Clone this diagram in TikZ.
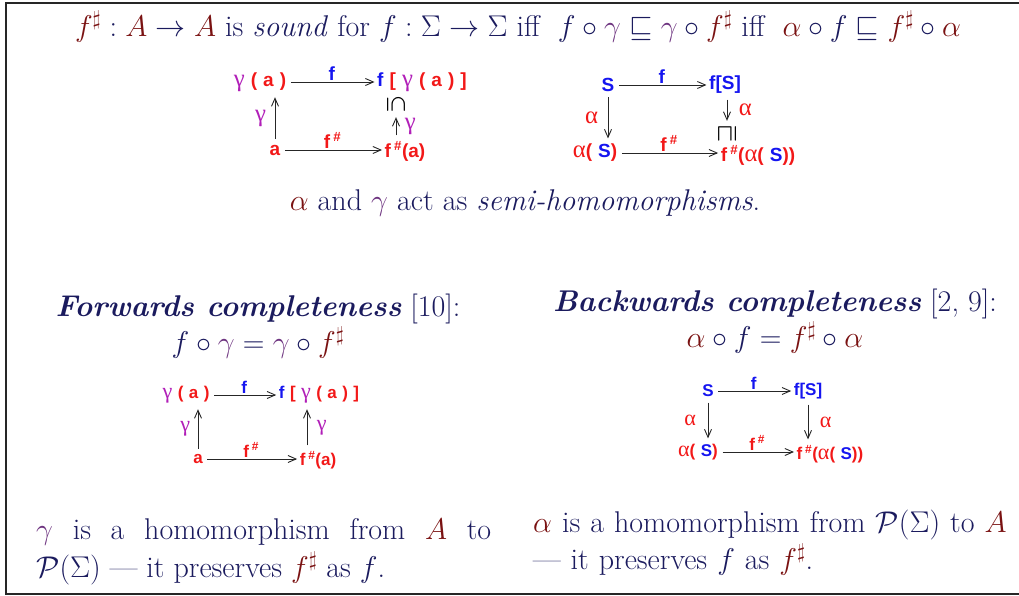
\documentclass[tikz,border=0pt]{standalone}
\usepackage{fix-cm}
\usepackage{xcolor}
\usepackage{graphicx}
\usepackage{fontspec}
\setsansfont{Liberation Sans}
\newfontfamily\grkfont{Liberation Serif}
\usetikzlibrary{arrows.meta}
\definecolor{navy}{HTML}{1B1B5E}
\definecolor{maroon}{HTML}{7A1212}
\definecolor{plum}{HTML}{6E3480}
\definecolor{dred}{HTML}{F21818}
\definecolor{dblue}{HTML}{1515F0}
\definecolor{dmag}{HTML}{B11FB8}
% math pieces
\newcommand{\fsh}{{\color{maroon}f^{\sharp}}}
\newcommand{\gam}{{\color{plum}\gamma}}
\newcommand{\alp}{{\color{maroon}\alpha}}
\newcommand{\absA}{{\color{maroon}A}}
% diagram pieces
\newcommand{\dsp}{\hspace{0.32em}}
\newcommand{\dgam}{{\color{dmag}\grkfont\mdseries\scalebox{1.3}{γ}}}
\newcommand{\dalp}{{\color{dred}\grkfont\mdseries\scalebox{1.3}{α}}}
\newcommand{\dsS}{{\color{dblue}S}}
\newcommand{\dff}{{\color{dblue}f}}
\newcommand{\dfsh}{{\color{dred}f\,\textsuperscript{\#}}}
\newcommand{\bigtext}{\fontsize{30}{36}\selectfont}
\tikzset{
  frame/.style={line width=2.5pt,draw=black!85},
  txt/.style={text=navy,font=\bigtext,inner sep=1pt},
  lab/.style={text=dred,font=\sffamily\bfseries\fontsize{19}{22}\selectfont,inner sep=1.5pt},
  smalllab/.style={text=dred,font=\sffamily\bfseries\fontsize{17}{20}\selectfont,inner sep=1.5pt},
  rel/.style={text=black,font=\fontsize{20}{22}\selectfont\boldmath,inner sep=0pt},
  arr/.style={-{Straight Barb[length=8pt,width=7pt]},line width=0.9pt,draw=black!85,shorten <=3pt,shorten >=1pt},
  varr/.style={arr,shorten <=4pt,shorten >=4pt}
}
\begin{document}
\begin{tikzpicture}[x=1pt,y=-1pt]
  \useasboundingbox (0,0) rectangle (1019,596);
  \draw[frame] (1030,3) -- (6,3) -- (6,594) -- (1030,594);

  % soundness
  \node[txt] (sound) at (518,27) {$\fsh:\absA\to\absA$ is \textit{sound} for $f:\Sigma\to\Sigma$ iff\ \ $f\circ\gam\sqsubseteq\gam\circ\fsh$ iff\ \ $\alp\circ f\sqsubseteq\fsh\circ\alp$};

  % top left square
  \node[lab] (ga) at (260,82) {\dgam\dsp(\dsp a\dsp)};
  \node[lab] (fga) at (422,82) {\dff\dsp[\dsp\dgam\dsp(\dsp a\dsp)\dsp]};
  \node[rel] (sub) at (396,104) {\rotatebox{-90}{$\subseteq$}};
  \node[lab] (a) at (275,150) {a};
  \node[lab] (fsa) at (405,151) {f\,\textsuperscript{\#}(a)};
  \draw[arr] (ga) -- node[lab,above] {\dff} (fga);
  \draw[arr] (a) -- node[lab,above] {\dfsh} (a -| fsa.west);
  \draw[varr] (a) -- node[lab,left=7pt] {\dgam} (a |- ga.south);
  \draw[varr] (sub |- fsa.north) -- node[lab,right=7pt] {\dgam} (sub.south);

  % top right square
  \node[lab] (s) at (608,85) {\dsS};
  \node[lab,text=dblue] (fs) at (725,85) {f[S]};
  \node[rel] (sq) at (727,134) {\rotatebox{90}{$\sqsupseteq$}};
  \node[lab] (as) at (595,153) {\dalp(\dsp\dsS)};
  \node[lab] (fsas) at (758,155) {f\,\textsuperscript{\#}(\dalp(\dsp\dsS))};
  \draw[arr] (s) -- node[lab,above] {\dff} (fs);
  \draw[varr] (s) -- node[lab,left=8pt] {\dalp} (s |- as.north);
  \draw[varr] (sq |- fs.south) -- node[lab,right=10pt] {\dalp} (sq.north);
  \draw[arr] (as) -- node[lab,above] {\dfsh} (as -| fsas.west);

  \node[txt] (semi) at (525,203) {$\alp$ and $\gam$ act as \textit{semi-homomorphisms}.};

  % forwards
  \node[txt,align=center] (fwd) at (258,326) {\textbf{\textit{Forwards completeness}} [10]:\\$f\circ\gam=\gam\circ\fsh$};
  \node[smalllab] (ga2) at (186,395) {\dgam\dsp(\dsp a\dsp)};
  \node[smalllab] (fga2) at (319,395) {\dff\dsp[\dsp\dgam\dsp(\dsp a\dsp)\dsp]};
  \node[smalllab] (a2) at (198,459) {a};
  \node[smalllab] (fsa2) at (318,460) {f\,\textsuperscript{\#}(a)};
  \draw[arr] (ga2) -- node[smalllab,above] {\dff} (fga2);
  \draw[arr] (a2) -- node[smalllab,above] {\dfsh} (a2 -| fsa2.west);
  \draw[varr] (a2) -- node[smalllab,left=6pt] {\dgam} (a2 |- ga2.south);
  \draw[varr] ([xshift=-11pt]fsa2.north) -- node[smalllab,right=8pt] {\dgam} ([xshift=-11pt]fsa2.north |- fga2.south);

  % backwards
  \node[txt,align=center] (bwd) at (775,321) {\textbf{\textit{Backwards completeness}} [2, 9]:\\$\alp\circ f=\fsh\circ\alp$};
  \node[smalllab] (s2) at (708,391) {\dsS};
  \node[smalllab,text=dblue] (fs2) at (808,391) {f[S]};
  \node[smalllab] (as2) at (698,452) {\dalp(\dsp\dsS)};
  \node[smalllab] (fsas2) at (830,454) {f\,\textsuperscript{\#}(\dalp(\dsp\dsS))};
  \draw[arr] (s2) -- node[smalllab,above] {\dff} (fs2);
  \draw[varr] (s2) -- node[smalllab,left=10pt] {\dalp} (s2 |- as2.north);
  \draw[varr] (fs2) -- node[smalllab,right=10pt] {\dalp} (fs2 |- fsas2.north);
  \draw[arr] (as2) -- node[smalllab,above] {\dfsh} (as2 -| fsas2.west);

  % homomorphisms
  \node[txt,text width=455pt,align=justify,anchor=north west,font=\fontsize{30}{38}\selectfont] (gpar) at (35,517) {$\gam$ is a homomorphism from $\absA$ to\linebreak $\mathcal{P}(\Sigma)$ --- it preserves $\fsh$ as $f$.};
  \node[txt,text width=500pt,align=left,anchor=north west,font=\fontsize{30}{37}\selectfont] (apar) at (532,509) {$\alp$ is a homomorphism from $\mathcal{P}(\Sigma)$ to $\absA$\\--- it preserves $f$ as $\fsh$.};
\end{tikzpicture}
\end{document}
